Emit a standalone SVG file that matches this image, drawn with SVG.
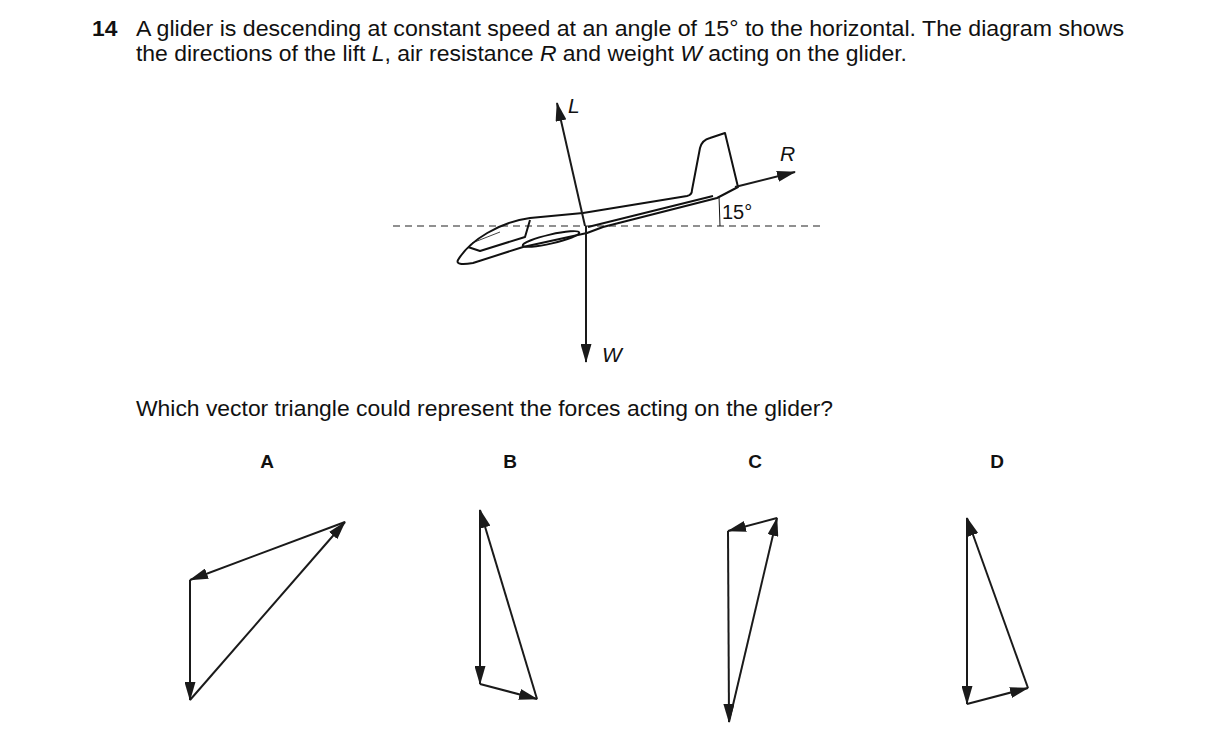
<svg xmlns="http://www.w3.org/2000/svg" width="1216" height="746" viewBox="0 0 1216 746">
<style>
text{font-family:"Liberation Sans",Arial,sans-serif;fill:#111}
.t{font-size:22.8px}
.lab{font-size:19px;font-weight:bold}
.v{stroke:#1a1a1a;stroke-width:2;fill:none}
.g{stroke:#111;stroke-width:2;fill:none;stroke-linejoin:round}
</style>
<defs>
<marker id="ah" viewBox="0 0 19 11" refX="18" refY="5.5" markerWidth="19" markerHeight="11" markerUnits="userSpaceOnUse" orient="auto"><path d="M0,0L19,5.5L0,11z" fill="#1a1a1a"/></marker>
</defs>
<rect width="1216" height="746" fill="#fff"/>
<text class="t" x="92" y="36" font-weight="bold" font-size="21.5">14</text>
<text class="t" x="136" y="36" textLength="988" lengthAdjust="spacingAndGlyphs">A glider is descending at constant speed at an angle of 15° to the horizontal. The diagram shows</text>
<text class="t" x="136" y="61" textLength="771" lengthAdjust="spacingAndGlyphs">the directions of the lift <tspan font-style="italic">L</tspan>, air resistance <tspan font-style="italic">R</tspan> and weight <tspan font-style="italic">W</tspan> acting on the glider.</text>
<g id="glider">
<line x1="393" y1="226" x2="822" y2="226" stroke="#222" stroke-width="1.2" stroke-dasharray="7,5"/>
<path class="g" d="M458,260 C470,240 500,222 530,218 L583,213 L687,196 Q692,195 692,190 L700,148 Q702,140 710,138 L725,133 L738,187 L717,198 L603,227 L587,233 L523,247 L473,263 Q455,266 458,260 Z"/>
<path class="g" stroke-width="1.3" d="M588,227 L713,196"/>
<path class="g" stroke-width="1.3" d="M468,247 L480,251 L525,237 L530,220"/>
<path stroke="#111" stroke-width="0.8" fill="none" d="M472,243 L500,232"/>
<ellipse cx="551" cy="239" rx="29" ry="4.5" transform="rotate(-13 551 239)" class="g" stroke-width="1.8"/>
<line x1="719" y1="196" x2="720" y2="226" stroke="#111" stroke-width="1"/>
<text x="722" y="219" font-size="20">15°</text>
</g>
<g id="connectors">
<line class="v" x1="585" y1="226" x2="557" y2="103" marker-end="url(#ah)"/>
<line class="v" x1="586" y1="226" x2="586" y2="362" marker-end="url(#ah)"/>
<line class="v" x1="735" y1="187" x2="795" y2="172" marker-end="url(#ah)"/>
<line class="v" x1="345" y1="522" x2="190" y2="580" marker-end="url(#ah)"/>
<line class="v" x1="190" y1="580" x2="190" y2="700" marker-end="url(#ah)"/>
<line class="v" x1="190" y1="700" x2="345" y2="522" marker-end="url(#ah)"/>
<line class="v" x1="480" y1="510" x2="480" y2="684" marker-end="url(#ah)"/>
<line class="v" x1="480" y1="684" x2="537" y2="699" marker-end="url(#ah)"/>
<line class="v" x1="537" y1="699" x2="480" y2="510" marker-end="url(#ah)"/>
<line class="v" x1="777" y1="518" x2="728" y2="531" marker-end="url(#ah)"/>
<line class="v" x1="728" y1="531" x2="729" y2="722" marker-end="url(#ah)"/>
<line class="v" x1="729" y1="722" x2="777" y2="518" marker-end="url(#ah)"/>
<line class="v" x1="967" y1="518" x2="967" y2="704" marker-end="url(#ah)"/>
<line class="v" x1="967" y1="704" x2="1028" y2="688" marker-end="url(#ah)"/>
<line class="v" x1="1028" y1="688" x2="967" y2="518" marker-end="url(#ah)"/>
</g>
<text x="568" y="113" font-size="21" font-style="italic">L</text>
<text x="780" y="161" font-size="21" font-style="italic">R</text>
<text x="602" y="362" font-size="21" font-style="italic">W</text>
<text class="t" x="136" y="416" textLength="697" lengthAdjust="spacingAndGlyphs">Which vector triangle could represent the forces acting on the glider?</text>
<text class="lab" x="267" y="468" text-anchor="middle">A</text>
<text class="lab" x="510" y="468" text-anchor="middle">B</text>
<text class="lab" x="755" y="468" text-anchor="middle">C</text>
<text class="lab" x="997" y="468" text-anchor="middle">D</text>
</svg>
